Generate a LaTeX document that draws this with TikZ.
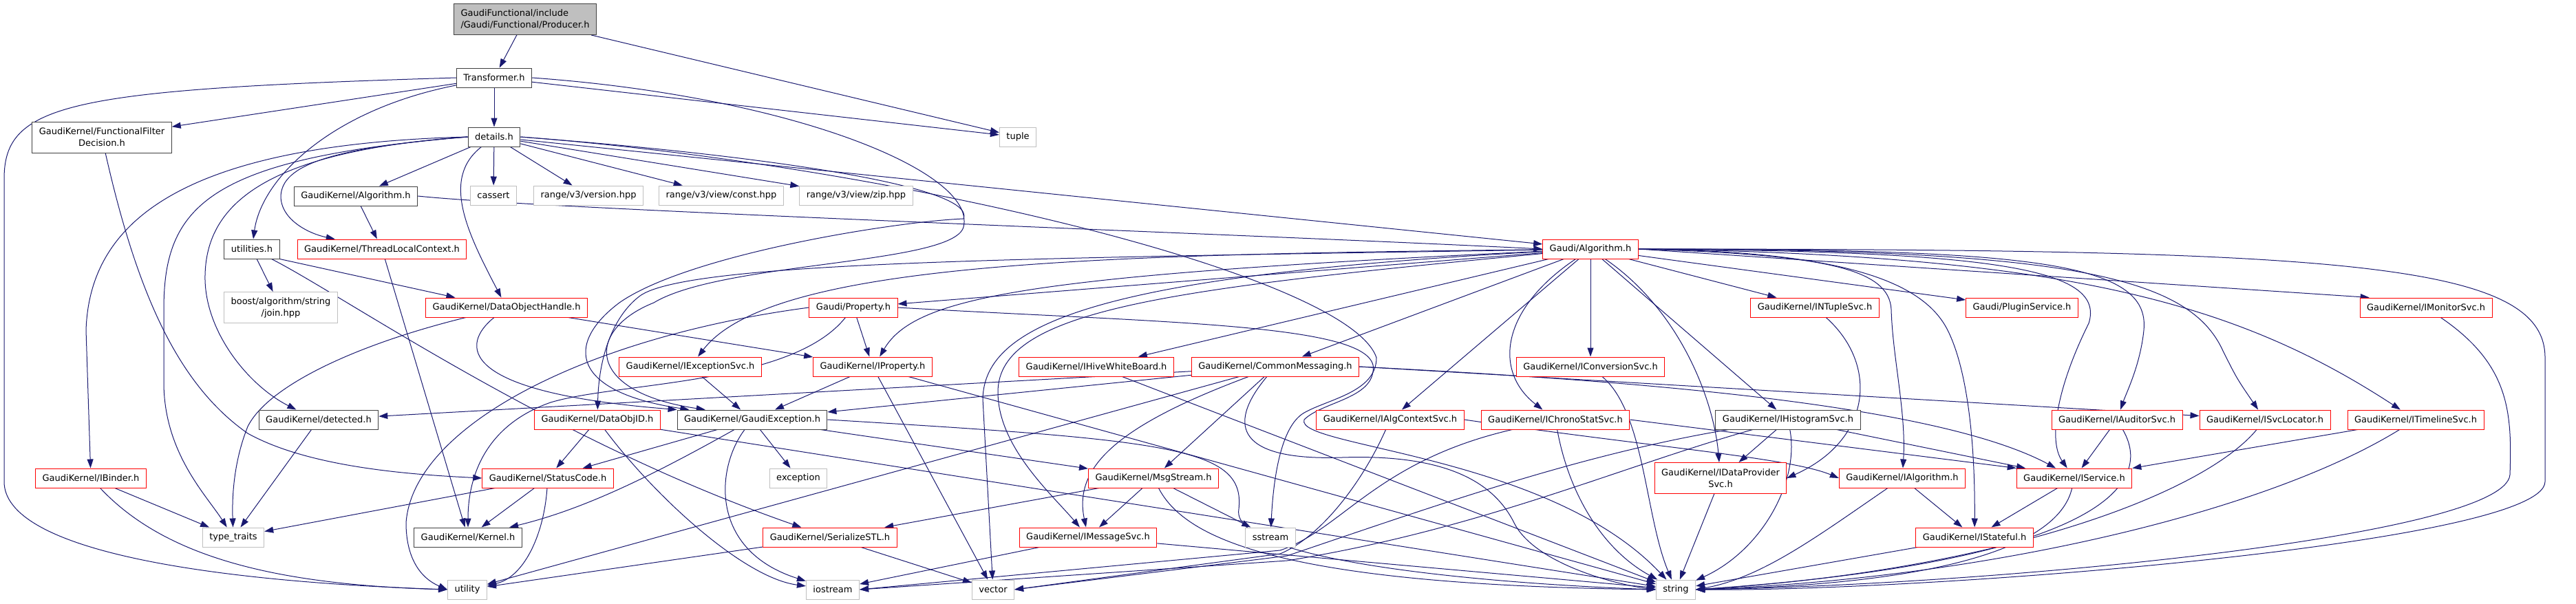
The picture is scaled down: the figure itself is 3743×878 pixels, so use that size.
\documentclass[tikz,border=0pt]{standalone}
\usepackage{fontspec}
\setmainfont{DejaVu Sans}
\usetikzlibrary{arrows.meta,backgrounds}
\definecolor{edgeblue}{HTML}{191970}
\definecolor{truncred}{HTML}{FF0000}
\definecolor{sysgray}{HTML}{BFBFBF}
\definecolor{fullgray}{HTML}{404040}

\begin{document}
\begin{tikzpicture}[x=1pt, y=-1pt,
    hdr/.style={draw=fullgray, line width=1pt, fill=white, inner xsep=10pt, inner ysep=0pt,
        minimum height=28pt, font=\fontsize{13}{17}\selectfont},
    hdrtrunc/.style={hdr, draw=truncred},
    hdrsys/.style={hdr, draw=sysgray},
    hdrmain/.style={hdr, fill=sysgray, align=left, minimum height=45pt},
    twoline/.style={align=center, minimum height=45pt},
    inc/.style={edgeblue, line width=1pt, -{Triangle[length=13pt, width=9pt]}}]
    \useasboundingbox (0,0) rectangle (3743,878);

    \node[hdrmain] (producer) at (763,28) {GaudiFunctional/include\\/Gaudi/Functional/Producer.h};
    \node[hdr] (transformer) at (718,113) {Transformer.h};
    \node[hdr] (details) at (718,199) {details.h};
    \node[hdrsys] (tuple) at (1479,199) {tuple};
    \node[hdr, twoline] (filterdec) at (148,199.5) {GaudiKernel/FunctionalFilter\\Decision.h};
    \node[hdrsys] (cassert) at (717,284) {cassert};
    \node[hdrsys] (rversion) at (855,284) {range/v3/version.hpp};
    \node[hdrsys] (rconst) at (1048,284) {range/v3/view/const.hpp};
    \node[hdrsys] (rzip) at (1244,284) {range/v3/view/zip.hpp};
    \node[hdr] (gkalgorithm) at (517,285) {GaudiKernel/Algorithm.h};
    \node[hdr] (utilities) at (366,362) {utilities.h};
    \node[hdrtrunc] (threadctx) at (555,362) {GaudiKernel/ThreadLocalContext.h};
    \node[hdrtrunc] (galgorithm) at (2311,362) {Gaudi/Algorithm.h};
    \node[hdrsys, twoline] (boostjoin) at (408,447) {boost/algorithm/string\\/join.hpp};
    \node[hdrtrunc] (dohandle) at (736,447) {GaudiKernel/DataObjectHandle.h};
    \node[hdrtrunc] (gproperty) at (1240,447) {Gaudi/Property.h};
    \node[hdrtrunc] (intuple) at (2637,447) {GaudiKernel/INTupleSvc.h};
    \node[hdrtrunc] (plugin) at (2938,447) {Gaudi/PluginService.h};
    \node[hdrtrunc] (imonitor) at (3525,447) {GaudiKernel/IMonitorSvc.h};
    \node[hdrtrunc] (iexception) at (1003,533) {GaudiKernel/IExceptionSvc.h};
    \node[hdrtrunc] (iproperty) at (1268,533) {GaudiKernel/IProperty.h};
    \node[hdrtrunc] (ihive) at (1593,533) {GaudiKernel/IHiveWhiteBoard.h};
    \node[hdrtrunc] (commonmsg) at (1853,533) {GaudiKernel/CommonMessaging.h};
    \node[hdrtrunc] (iconversion) at (2311,533) {GaudiKernel/IConversionSvc.h};
    \node[hdr] (detected) at (463,610) {GaudiKernel/detected.h};
    \node[hdrtrunc] (dataobjid) at (868,610) {GaudiKernel/DataObjID.h};
    \node[hdr] (gexception) at (1093,610) {GaudiKernel/GaudiException.h};
    \node[hdrtrunc] (ialgctx) at (2020,610) {GaudiKernel/IAlgContextSvc.h};
    \node[hdrtrunc] (ichrono) at (2260,610) {GaudiKernel/IChronoStatSvc.h};
    \node[hdr] (ihisto) at (2598,610) {GaudiKernel/IHistogramSvc.h};
    \node[hdrtrunc] (iauditor) at (3076,610) {GaudiKernel/IAuditorSvc.h};
    \node[hdrtrunc] (isvcloc) at (3291,610) {GaudiKernel/ISvcLocator.h};
    \node[hdrtrunc] (itimeline) at (3510,610) {GaudiKernel/ITimelineSvc.h};
    \node[hdrtrunc] (ibinder) at (132,695) {GaudiKernel/IBinder.h};
    \node[hdrtrunc] (statuscode) at (796,695) {GaudiKernel/StatusCode.h};
    \node[hdrsys] (exception) at (1160,695) {exception};
    \node[hdrtrunc] (msgstream) at (1676,695) {GaudiKernel/MsgStream.h};
    \node[hdrtrunc, twoline] (idataprov) at (2500,695) {GaudiKernel/IDataProvider\\Svc.h};
    \node[hdrtrunc] (ialgorithm) at (2764,695) {GaudiKernel/IAlgorithm.h};
    \node[hdrtrunc] (iservice) at (3014,695) {GaudiKernel/IService.h};
    \node[hdrsys] (typetraits) at (339,781) {type\_traits};
    \node[hdr] (kernel) at (680,781) {GaudiKernel/Kernel.h};
    \node[hdrtrunc] (serialstl) at (1206,781) {GaudiKernel/SerializeSTL.h};
    \node[hdrtrunc] (imsgsvc) at (1581,781) {GaudiKernel/IMessageSvc.h};
    \node[hdrsys] (sstream) at (1846,781) {sstream};
    \node[hdrtrunc] (istateful) at (2869,781) {GaudiKernel/IStateful.h};
    \node[hdrsys] (utility) at (679,857) {utility};
    \node[hdrsys] (iostream) at (1210,857) {iostream};
    \node[hdrsys] (vector) at (1443,857) {vector};
    \node[hdrsys] (string) at (2435,857) {string};

    \begin{scope}[on background layer]
    \foreach \src/\dst in {producer/transformer, producer/tuple, transformer/filterdec,
        transformer/details, transformer/tuple, details/cassert, details/rversion,
        details/rconst, details/rzip, details/galgorithm, gkalgorithm/threadctx,
        utilities/boostjoin, threadctx/kernel, dohandle/iproperty, ibinder/typetraits,
        detected/typetraits, galgorithm/gproperty, galgorithm/ihive, galgorithm/commonmsg,
        galgorithm/ialgctx, galgorithm/iconversion, galgorithm/ihisto, galgorithm/intuple,
        galgorithm/plugin, gproperty/iproperty, iproperty/gexception, iproperty/vector,
        iproperty/string, iexception/gexception, ihive/string, commonmsg/detected,
        commonmsg/gexception, commonmsg/msgstream, commonmsg/utility, dataobjid/statuscode,
        dataobjid/string, gexception/statuscode, gexception/exception, gexception/msgstream,
        statuscode/kernel, statuscode/typetraits, msgstream/serialstl, msgstream/imsgsvc,
        msgstream/sstream, imsgsvc/iostream, imsgsvc/string, serialstl/utility,
        serialstl/vector, ihisto/idataprov, ihisto/iservice, idataprov/string,
        ialgorithm/istateful, iservice/istateful, iauditor/iservice, itimeline/iservice,
        istateful/string}
        \draw[inc] (\src) -- (\dst);

    \draw[inc] (transformer.west) .. controls (100,130) and (6,150) .. (6,260) -- (6,700)
        .. controls (6,800) and (300,845) .. (utility.west);
    \draw[inc] (transformer) .. controls (480,160) and (380,260) .. (utilities);
    \draw[inc] (transformer.east) .. controls (1150,140) and (1420,250) .. (1400,330)
        .. controls (1385,385) and (1050,380) .. (950,440)
        .. controls (850,480) and (850,570) .. (gexception.168);
    \draw[inc] (details.east) .. controls (1100,225) and (1420,270) .. (1400,318)
        .. controls (1300,322) and (1000,370) .. (900,440)
        .. controls (820,500) and (830,570) .. (gexception.171);
    \draw[inc] (details.west) .. controls (480,215) and (410,240) .. (408,285)
        .. controls (408,320) and (450,340) .. (threadctx.168);
    \draw[inc] (details) .. controls (640,260) and (680,340) .. (dohandle);
    \draw[inc] (details.west) .. controls (380,220) and (300,300) .. (298,400)
        .. controls (296,480) and (360,560) .. (detected.156);
    \draw[inc] (details.west) .. controls (300,230) and (238,300) .. (238,450) -- (238,560)
        .. controls (240,660) and (300,720) .. (typetraits);
    \draw[inc] (details.west) .. controls (250,210) and (130,330) .. (125,480) -- (ibinder);
    \draw[inc] (details.east) .. controls (1300,240) and (1960,400) .. (2000,520)
        .. controls (2000,570) and (1930,580) .. (1895,600)
        .. controls (1860,620) and (1850,700) .. (sstream);
    \draw[inc] (details) -- (gkalgorithm);
    \draw[inc] (gkalgorithm.east) .. controls (800,305) and (1800,340) .. (galgorithm.west);
    \draw[inc] (filterdec) .. controls (200,430) and (260,560) .. (360,630)
        .. controls (450,680) and (600,690) .. (statuscode.west);
    \draw[inc] (utilities.south east) -- (dohandle.169);
    \draw[inc] (utilities) .. controls (500,430) and (800,640) .. (serialstl);
    \draw[inc] (dohandle) .. controls (520,500) and (390,560) .. (360,620)
        .. controls (340,670) and (337,720) .. (typetraits);
    \draw[inc] (dohandle) .. controls (670,500) and (660,570) .. (gexception.north west);
    \draw[inc] (ibinder) .. controls (240,810) and (400,850) .. (utility.west);
    \draw[inc] (statuscode) .. controls (790,780) and (760,840) .. (utility);
    \draw[inc] (gexception) .. controls (950,690) and (850,740) .. (kernel);
    \draw[inc] (gexception) .. controls (1040,680) and (1030,800) .. (iostream);
    \draw[inc] (gexception.east) .. controls (1700,640) and (1810,650) .. (1800,740)
        .. controls (1785,820) and (2200,850) .. (string.west);
    \draw[inc] (dataobjid) .. controls (950,720) and (1080,840) .. (iostream);
    \draw[inc] (gproperty) .. controls (1150,560) and (900,555) .. (800,585)
        .. controls (700,620) and (680,700) .. (kernel);
    \draw[inc] (gproperty.west) .. controls (850,490) and (600,620) .. (590,760)
        .. controls (590,810) and (610,840) .. (utility.west);
    \draw[inc] (gproperty.east) .. controls (1700,470) and (2010,470) .. (1995,540)
        .. controls (1990,580) and (1920,585) .. (1895,610)
        .. controls (1880,650) and (2250,660) .. (string);
    \draw[inc] (galgorithm) .. controls (1500,400) and (1330,430) .. (iproperty.55);
    \draw[inc] (galgorithm) .. controls (1600,370) and (1120,380) .. (iexception);
    \draw[inc] (galgorithm) .. controls (1500,375) and (1000,380) .. (930,430)
        .. controls (890,460) and (870,520) .. (dataobjid);
    \draw[inc] (galgorithm) .. controls (1700,420) and (1450,450) .. (1450,570)
        .. controls (1450,650) and (1530,720) .. (imsgsvc);
    \draw[inc] (galgorithm) .. controls (1600,400) and (1430,470) .. (1428,580) -- (vector);
    \draw[inc] (galgorithm.east) .. controls (3400,362) and (3698,380) .. (3698,520) -- (3698,700)
        .. controls (3698,790) and (2800,860) .. (string.east);
    \draw[inc] (galgorithm) .. controls (2180,450) and (2170,540) .. (ichrono);
    \draw[inc] (galgorithm) .. controls (2440,450) and (2490,580) .. (idataprov);
    \draw[inc] (galgorithm.east) .. controls (2650,370) and (2745,390) .. (2748,450)
        .. controls (2750,520) and (2770,600) .. (ialgorithm);
    \draw[inc] (galgorithm.east) .. controls (2650,365) and (2790,400) .. (2830,480)
        .. controls (2860,540) and (2870,650) .. (istateful);
    \draw[inc] (galgorithm.east) .. controls (2900,365) and (3060,390) .. (3035,470)
        .. controls (2990,560) and (2975,640) .. (iservice);
    \draw[inc] (galgorithm.east) .. controls (2950,362) and (3125,380) .. (3115,480)
        .. controls (3110,530) and (3090,570) .. (iauditor);
    \draw[inc] (galgorithm.east) .. controls (3000,362) and (3180,400) .. (3230,510)
        .. controls (3250,550) .. (isvcloc);
    \draw[inc] (galgorithm.east) .. controls (3000,370) and (3250,440) .. (itimeline);
    \draw[inc] (galgorithm.east) -- (imonitor.170);
    \draw[inc] (commonmsg) .. controls (1620,620) and (1560,680) .. (imsgsvc);
    \draw[inc] (commonmsg) .. controls (1780,620) and (1800,670) .. (1950,665)
        .. controls (2100,660) and (2170,700) .. (2200,760)
        .. controls (2230,820) and (2350,850) .. (string.west);
    \draw[inc] (commonmsg.east) -- (isvcloc);
    \draw[inc] (commonmsg.east) .. controls (2300,550) and (2800,580) .. (iservice);
    \draw[inc] (msgstream) .. controls (1720,780) and (1850,850) .. (string.west);
    \draw[inc] (ialgctx.east) .. controls (2400,650) and (2600,665) .. (ialgorithm.west);
    \draw[inc] (ialgctx) .. controls (1980,700) and (1920,780) .. (1860,805) -- (vector.east);
    \draw[inc] (ichrono.east) -- (iservice.north west);
    \draw[inc] (ichrono) .. controls (2000,670) and (1950,770) .. (1860,800) -- (iostream.east);
    \draw[inc] (ichrono) .. controls (2280,720) and (2330,800) .. (string);
    \draw[inc] (iconversion) .. controls (2390,600) and (2390,750) .. (string);
    \draw[inc] (ihisto) .. controls (2300,660) and (2100,730) .. (1870,808) -- (vector.east);
    \draw[inc] (ihisto) .. controls (2350,680) and (2150,770) .. (1870,815) -- (iostream.east);
    \draw[inc] (ihisto) .. controls (2615,700) and (2560,800) .. (string);
    \draw[inc] (intuple) .. controls (2730,530) and (2720,640) .. (idataprov.east);
    \draw[inc] (ialgorithm) .. controls (2640,780) and (2560,840) .. (string.east);
    \draw[inc] (iservice) .. controls (2990,800) and (2800,850) .. (string.east);
    \draw[inc] (iauditor) .. controls (3140,720) and (3000,820) .. (string.east);
    \draw[inc] (isvcloc) .. controls (3200,720) and (2900,830) .. (string.east);
    \draw[inc] (itimeline) .. controls (3300,740) and (2900,840) .. (string.east);
    \draw[inc] (imonitor) .. controls (3647,530) and (3650,600) .. (3647,690)
        .. controls (3640,780) and (2900,850) .. (string.east);
    \end{scope}
\end{tikzpicture}
\end{document}
